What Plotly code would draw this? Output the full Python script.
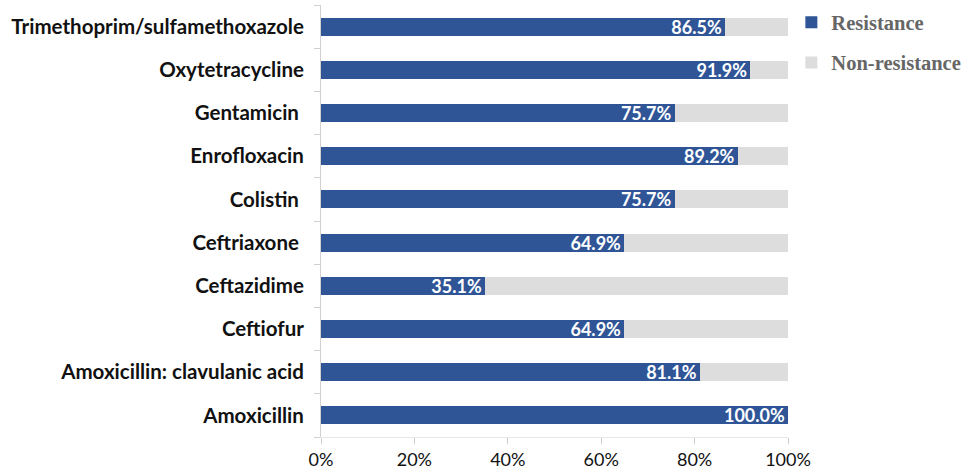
import plotly.graph_objects as go

categories = ["Amoxicillin", "Amoxicillin: clavulanic acid", "Ceftiofur", "Ceftazidime",
              "Ceftriaxone ", "Colistin ", "Enrofloxacin", "Gentamicin ", "Oxytetracycline",
              "Trimethoprim/sulfamethoxazole"]
resistance = [100.0, 81.1, 64.9, 35.1, 64.9, 75.7, 89.2, 75.7, 91.9, 86.5]
non_resistance = [round(100 - v, 1) for v in resistance]
xticks = [0, 20, 40, 60, 80, 100]

fig = go.Figure()
fig.add_trace(go.Bar(
    y=categories, x=resistance, orientation="h", name="Resistance",
    marker=dict(color="#2F5597", line=dict(width=0)),
    text=[f"{v:.1f}%" for v in resistance], textposition="inside",
    insidetextanchor="end", textangle=0,
    textfont=dict(family="Lato", size=18, color="white", weight="bold"),
    cliponaxis=False, legend="legend",
))
fig.add_trace(go.Bar(
    y=categories, x=non_resistance, orientation="h", name="Non-resistance",
    marker=dict(color="#DDDDDD", line=dict(width=0)),
    hoverinfo="skip", legend="legend2",
))

legend_font = dict(family="Liberation Serif", size=20.5, color="#666666", weight="bold")
fig.update_layout(
    barmode="stack", bargap=0.58,
    width=971, height=474,
    margin=dict(l=321, r=183, t=5, b=37, autoexpand=False),
    plot_bgcolor="white", paper_bgcolor="white",
    font=dict(family="Lato", color="#111111"),
    uniformtext=dict(minsize=18, mode="show"),
    legend=dict(xref="container", yref="container", x=0.815, y=0.995,
                xanchor="left", yanchor="top", font=legend_font,
                itemwidth=30, bgcolor="rgba(0,0,0,0)"),
    legend2=dict(xref="container", yref="container", x=0.815, y=0.910,
                 xanchor="left", yanchor="top", font=legend_font,
                 itemwidth=30, bgcolor="rgba(0,0,0,0)"),
    showlegend=True,
)
fig.update_xaxes(
    range=[0, 100], tickvals=xticks, ticktext=[f"{t}%" for t in xticks],
    showgrid=False, zeroline=False, showline=True, linecolor="#E6E6E6", linewidth=1,
    ticks="outside", ticklen=6, tickcolor="#CCCCCC",
    tickfont=dict(family="Lato", size=18, color="#111111"),
)
fig.update_yaxes(
    categoryorder="array", categoryarray=categories,
    showgrid=False, showline=True, linecolor="#D0D0D0", linewidth=1,
    ticks="outside", ticklen=6, tickcolor="#D0D0D0", tickson="boundaries",
    tickfont=dict(family="Lato", size=20.5, color="#111111", weight="bold"),
    ticklabelstandoff=12,
)

fig.write_html("out.html")
